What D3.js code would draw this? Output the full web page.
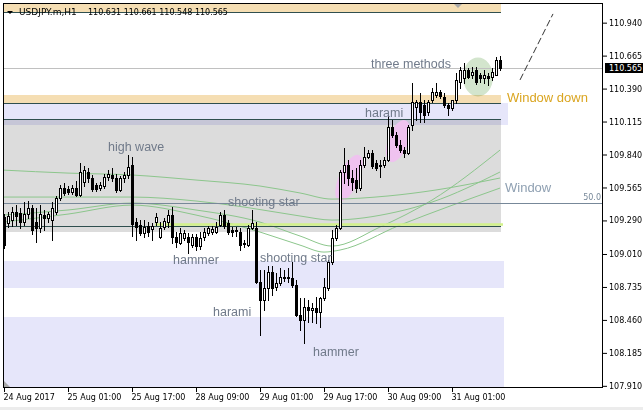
<!DOCTYPE html>
<html><head><meta charset="utf-8">
<script src="https://cdn.jsdelivr.net/npm/d3@7"></script>
<style>
html,body{margin:0;padding:0;background:#fff;}
svg{display:block;}
</style></head><body>
<svg id="c" width="643" height="410"></svg>
<script>
// ---------- DATA ----------
const symbol = "USDJPY.m,H1";
const lastBar = [110.631, 110.661, 110.548, 110.565];
const open = [109.318,109.268,109.293,109.360,109.352,109.276,109.343,109.393,109.276,109.226,
109.335,109.310,109.293,109.360,109.477,109.560,109.552,109.527,109.560,109.502,
109.610,109.694,109.644,109.585,109.560,109.577,109.652,109.669,109.644,109.544,
109.644,109.669,109.752,109.276,109.251,109.185,109.243,109.218,109.276,109.151,
109.235,109.276,109.335,109.151,109.101,109.143,109.151,109.084,109.151,109.076,
109.151,109.185,109.193,109.193,109.251,109.335,109.268,109.210,109.201,109.193,
109.101,109.084,109.226,109.226,108.776,108.625,108.726,108.859,108.734,108.767,
108.809,108.817,108.809,108.751,108.500,108.458,108.567,108.542,108.559,108.525,
108.642,108.726,108.943,109.143,109.226,109.694,109.752,109.644,109.627,109.560,
109.752,109.819,109.852,109.769,109.744,109.752,109.794,110.069,110.003,109.919,
109.877,109.852,110.086,110.236,110.278,110.253,110.195,110.295,110.337,110.362,
110.320,110.253,110.228,110.295,110.445,110.478,110.545,110.503,110.545,110.503,
110.478,110.495,110.487,110.503,110.631];
const high = [109.344,109.360,109.402,109.418,109.393,109.443,109.452,109.418,109.393,109.418,
109.377,109.360,109.443,109.494,109.585,109.602,109.577,109.585,109.619,109.769,
109.744,109.727,109.669,109.602,109.610,109.677,109.710,109.727,109.677,109.660,
109.694,109.836,109.819,109.310,109.293,109.293,109.276,109.268,109.352,109.276,
109.310,109.377,109.402,109.193,109.226,109.210,109.185,109.176,109.176,109.193,
109.226,109.243,109.243,109.276,109.360,109.377,109.293,109.235,109.235,109.226,
109.126,109.251,109.377,109.276,108.876,108.876,108.909,108.909,108.851,108.892,
108.876,108.892,108.943,108.792,108.642,108.642,108.625,108.600,108.650,108.650,
108.809,108.959,109.210,109.251,109.710,109.894,109.794,109.710,109.727,109.794,
109.902,109.877,109.877,109.794,109.794,109.819,110.170,110.128,110.028,109.961,
109.902,110.086,110.437,110.295,110.353,110.295,110.295,110.395,110.437,110.378,
110.353,110.270,110.295,110.520,110.570,110.604,110.562,110.570,110.570,110.520,
110.545,110.520,110.562,110.654,110.661];
const low = [109.059,109.235,109.243,109.251,109.226,109.251,109.310,109.176,109.110,109.193,
109.210,109.276,109.126,109.343,109.460,109.502,109.510,109.510,109.494,109.494,
109.577,109.610,109.535,109.535,109.544,109.560,109.627,109.619,109.527,109.535,
109.610,109.644,109.160,109.126,109.168,109.151,109.160,109.126,109.251,109.143,
109.218,109.235,109.101,109.068,109.093,109.126,109.018,109.068,109.043,109.051,
109.126,109.168,109.176,109.185,109.243,109.226,109.176,109.160,109.160,109.043,
109.068,109.076,109.218,108.767,108.333,108.542,108.625,108.667,108.709,108.751,
108.784,108.776,108.734,108.492,108.375,108.266,108.442,108.442,108.433,108.400,
108.625,108.709,108.926,109.126,109.218,109.602,109.585,109.544,109.527,109.544,
109.736,109.811,109.727,109.710,109.652,109.736,109.786,109.986,109.902,109.861,
109.819,109.844,110.044,110.128,110.111,110.111,110.170,110.278,110.320,110.311,
110.236,110.170,110.211,110.270,110.395,110.437,110.478,110.478,110.428,110.445,
110.437,110.420,110.462,110.503,110.548];
const close = [109.084,109.327,109.360,109.327,109.276,109.343,109.393,109.210,109.226,109.343,
109.310,109.343,109.393,109.477,109.560,109.519,109.527,109.560,109.502,109.694,
109.710,109.644,109.552,109.552,109.585,109.652,109.677,109.644,109.544,109.644,
109.669,109.736,109.260,109.235,109.185,109.235,109.193,109.243,109.318,109.226,
109.285,109.335,109.151,109.110,109.185,109.185,109.110,109.151,109.076,109.143,
109.193,109.226,109.218,109.235,109.335,109.243,109.193,109.193,109.210,109.084,
109.093,109.226,109.268,108.776,108.625,108.726,108.859,108.726,108.767,108.817,
108.817,108.809,108.751,108.500,108.458,108.567,108.542,108.559,108.525,108.642,
108.734,108.943,109.143,109.226,109.694,109.752,109.644,109.610,109.560,109.752,
109.819,109.852,109.744,109.727,109.752,109.794,110.069,110.003,109.919,109.877,
109.852,110.069,110.278,110.278,110.195,110.170,110.278,110.362,110.362,110.328,
110.253,110.228,110.295,110.462,110.545,110.545,110.487,110.528,110.445,110.478,
110.503,110.478,110.528,110.629,110.565];

const timeTickIdx = [0,16,32,48,64,80,96,112];
const timeTickLabels = ["24 Aug 2017","25 Aug 01:00","25 Aug 17:00","28 Aug 09:00",
  "29 Aug 01:00","29 Aug 17:00","30 Aug 09:00","31 Aug 01:00"];
const priceTicks = [110.940,110.665,110.390,110.115,109.840,109.565,109.290,109.010,108.735,108.460,108.185,107.910];

// zones: bar-index span and price span
const zoneStart = [-0.25,-0.25,-0.25,-0.25,-0.25,-0.25];
const zoneEnd   = [124.25,124.25,126,124.25,125,125];
const zoneLow   = [111.029,110.270,110.086,109.193,108.726,107.80];
const zoneHigh  = [111.20,110.336,110.270,110.128,108.951,108.484];

const levelPrices = [111.029,110.270,110.136,109.243];
const supportLine = [37.75,124.75,109.256];
const fibPrice = 109.435, fibLabel = "50.0";

// moving averages (control points)
const ma1Idx=[-0.25,16,32,48,64,74,82,96,108,124];
const ma1   =[109.710,109.685,109.669,109.627,109.577,109.519,109.468,109.494,109.544,109.644];
const ma2Idx=[-0.25,16,32,48,60,74,82,98,107,124];
const ma2   =[109.485,109.485,109.485,109.452,109.402,109.327,109.293,109.360,109.443,109.694];
const ma3Idx=[-0.25,16,32,48,64,74,82,94,107,124];
const ma3   =[109.335,109.377,109.435,109.377,109.276,109.160,109.076,109.235,109.460,109.877];
const ma4Idx=[-0.25,16,32,48,64,74,80,84,99,124];
const ma4   =[109.276,109.343,109.418,109.335,109.193,109.084,109.026,109.043,109.251,109.560];

const highlightIdx   = [86.25, 98.5, 118.5];
const highlightPrice = [109.644, 109.952, 110.487];

const projIdx = [129, 137.25], projPrice = [110.462, 111.013];

const labelText  = ["high wave","hammer","shooting star","shooting star","harami","hammer","harami","three methods"];
const labelIdx   = [26, 42.25, 56, 64, 52.25, 77.25, 90.25, 91.75];
const labelPrice = [109.869,108.926,109.410,108.943,108.492,108.158,110.157,110.562];
const windowText  = ["Window down","Window"];
const windowIdx   = [125.75,125.25];
const windowPrice = [110.282,109.531];

// ---------- DRAW ----------
const svg = d3.select("#c");
const L=3, R=603, T=3, B=388;
const x = d3.scaleLinear().domain([0,124]).range([4,500]);
const y = d3.scaleLinear().domain([107.892,111.104]).range([B,T]);

svg.append("rect").attr("width",643).attr("height",410).attr("fill","#fff");
svg.append("rect").attr("x",0).attr("y",407).attr("width",643).attr("height",3).attr("fill","#ececec");

svg.append("defs").append("clipPath").attr("id","clip")
  .append("rect").attr("x",L).attr("y",T).attr("width",R-L).attr("height",B-T);
const plot = svg.append("g").attr("clip-path","url(#clip)");

const zoneFill = ["#f5deb3","#f5deb3","#e6e6fa","#dcdcdc","#e6e6fa","#e6e6fa"];
const zoneOrder = [3,0,1,2,4,5];
zoneOrder.forEach(k=>{
  plot.append("rect")
    .attr("x",Math.round(x(zoneStart[k]))).attr("width",Math.round(x(zoneEnd[k]))-Math.round(x(zoneStart[k])))
    .attr("y",Math.round(y(zoneHigh[k]))).attr("height",Math.round(y(zoneLow[k]))-Math.round(y(zoneHigh[k])))
    .attr("fill",zoneFill[k]).style("mix-blend-mode","multiply");
});

// highlight ellipses
const hlStyle = [
  {fill:"#efc2ef", rx:10, ry:25, rot:24},
  {fill:"#efc2ef", rx:10, ry:22, rot:20},
  {fill:"#d3e5cd", rx:15, ry:19.5, rot:0}
];
highlightIdx.forEach((d,k)=>{
  const s=hlStyle[k];
  plot.append("ellipse").attr("cx",0).attr("cy",0).attr("rx",s.rx).attr("ry",s.ry)
    .attr("transform",`translate(${x(d)},${y(highlightPrice[k])}) rotate(${s.rot})`)
    .attr("fill",s.fill).style("mix-blend-mode", k===2?"multiply":"normal");
});

// MA lines
const line = d3.line().x(d=>x(d[0])).y(d=>y(d[1])).curve(d3.curveMonotoneX);
[[ma1Idx,ma1],[ma2Idx,ma2],[ma3Idx,ma3],[ma4Idx,ma4]].forEach(([ix,v])=>{
  plot.append("path").datum(ix.map((d,i)=>[d,v[i]])).attr("d",line)
    .attr("fill","none").attr("stroke","#8cc68c").attr("stroke-width",1);
});

// horizontal lines
plot.append("line").attr("x1",x(supportLine[0])).attr("x2",x(supportLine[1]))
  .attr("y1",y(supportLine[2])).attr("y2",y(supportLine[2]))
  .attr("stroke","#d2f28a").attr("stroke-width",2.5);
levelPrices.forEach(p=>{
  const yy=Math.round(y(p))+0.5;
  plot.append("line").attr("x1",L).attr("x2",x(124.25)).attr("y1",yy).attr("y2",yy)
    .attr("stroke","#2f4f4f").attr("stroke-width",1);
});
{
  const yy=Math.round(y(fibPrice))+0.5;
  plot.append("line").attr("x1",L).attr("x2",R).attr("y1",yy).attr("y2",yy)
    .attr("stroke","#778899").attr("stroke-width",1);
  plot.append("text").attr("x",R-2).attr("y",yy-4).attr("text-anchor","end")
    .attr("font-family","DejaVu Sans").attr("font-size","8px").attr("fill","#778899").text(fibLabel);
}
{
  const yy=Math.round(y(lastBar[3]))+0.5;
  plot.append("line").attr("x1",L).attr("x2",R).attr("y1",yy).attr("y2",yy)
    .attr("stroke","#c0c0c0").attr("stroke-width",1);
}

// candles
const cg = plot.append("g").attr("shape-rendering","crispEdges");
open.forEach((o,i)=>{
  const c=close[i], xc=Math.round(x(i));
  const yH=Math.round(y(high[i])), yL=Math.round(y(low[i]));
  cg.append("line").attr("x1",xc+0.5).attr("x2",xc+0.5).attr("y1",yH).attr("y2",yL+1)
    .attr("stroke","#000").attr("stroke-width",1);
  const yt=Math.round(y(Math.max(o,c))), yb=Math.round(y(Math.min(o,c)));
  const bull = c>=o;
  cg.append("rect").attr("x",xc-1+0.5).attr("width",2)
    .attr("y",yt+0.5).attr("height",Math.max(0,yb-yt))
    .attr("fill",bull?"#fff":"#000").attr("stroke","#000").attr("stroke-width",1);
});

// projection dashed line
plot.append("line").attr("x1",x(projIdx[0])).attr("y1",y(projPrice[0]))
  .attr("x2",x(projIdx[1])).attr("y2",y(projPrice[1]))
  .attr("stroke","#333").attr("stroke-width",1).attr("stroke-dasharray","7,3");

// labels
labelText.forEach((t,k)=>{
  plot.append("text").attr("x",x(labelIdx[k])).attr("y",y(labelPrice[k]))
    .attr("font-family","Liberation Sans, Arial, sans-serif").attr("font-size","12.5px")
    .attr("fill","#707a8a").text(t);
});
const wColor=["#daa520","#8fa0b2"];
windowText.forEach((t,k)=>{
  plot.append("text").attr("x",x(windowIdx[k])).attr("y",y(windowPrice[k]))
    .attr("font-family","Liberation Sans, Arial, sans-serif").attr("font-size","13px")
    .attr("fill",wColor[k]).text(t);
});

// markers
plot.append("path").attr("d",`M${x(113.5)-5},3 L${x(113.5)+5},3 L${x(113.5)},8 Z`).attr("fill","#a8a8a8");
svg.append("path").attr("d","M4,381 L4,387 L10,387 Z").attr("fill","#a8a8a8");

// frame
svg.append("rect").attr("x",L+0.5).attr("y",T+0.5).attr("width",R-L-1).attr("height",B-T-1)
  .attr("fill","none").attr("stroke","#000").attr("shape-rendering","crispEdges");

// header
svg.append("path").attr("d","M7,11 L13,11 L10,14 Z").attr("fill","#000");
svg.append("text").attr("x",19).attr("y",15).attr("font-family","DejaVu Sans").attr("font-size","9px")
  .attr("fill","#000").text(symbol);
svg.append("text").attr("x",88).attr("y",15).attr("font-family","DejaVu Sans").attr("font-size","8px")
  .attr("fill","#000").attr("xml:space","preserve").text(lastBar.map(d3.format(".3f")).join(" "));

// price axis
const gY = svg.append("g").attr("transform",`translate(${R},0)`)
  .call(d3.axisRight(y).tickValues(priceTicks).tickSize(4).tickPadding(2).tickFormat(d3.format(".3f")));
gY.select(".domain").remove();
gY.selectAll("line").attr("stroke","#000");
gY.selectAll("text").attr("font-family","DejaVu Sans").attr("font-size","8px").attr("fill","#000");

// current price tag
{
  const yy=Math.round(y(lastBar[3]));
  svg.append("rect").attr("x",605).attr("y",yy-5).attr("width",38).attr("height",10).attr("fill","#000");
  svg.append("text").attr("x",609).attr("y",yy+3).attr("font-family","DejaVu Sans").attr("font-size","8px")
    .attr("fill","#fff").text(d3.format(".3f")(lastBar[3]));
}

// time axis
const gX = svg.append("g").attr("transform",`translate(0,${B})`)
  .call(d3.axisBottom(x).tickValues(timeTickIdx).tickSize(4).tickFormat((d,i)=>timeTickLabels[i]));
gX.select(".domain").remove();
gX.selectAll("line").attr("stroke","#000");
gX.selectAll("text").attr("text-anchor","start").attr("x",-1).attr("y",11.5).attr("dy",0)
  .attr("font-family","DejaVu Sans").attr("font-size","8px").attr("fill","#000");
</script>
</body></html>
